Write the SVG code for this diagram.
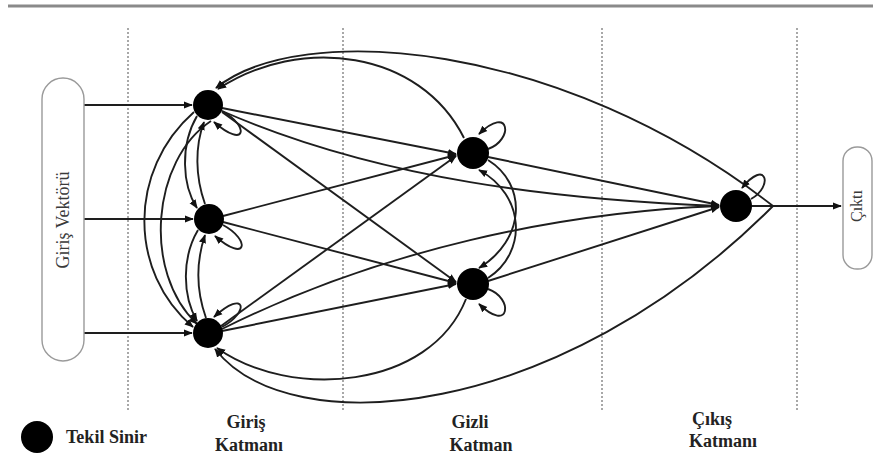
<svg xmlns="http://www.w3.org/2000/svg" width="873" height="456" viewBox="0 0 873 456">
<style>
.c{fill:none;stroke:#1e1e1e;stroke-width:1.9}
.v{stroke:#8c8c8c;stroke-width:1.5;stroke-dasharray:2 2}
.n{fill:#000}
.box{fill:#fff;stroke:#9a9a9a;stroke-width:1.4}
.bt{font-family:'Liberation Serif','DejaVu Serif',serif;font-size:18px;fill:#3a3a3a}
.lb{font-family:'Liberation Serif','DejaVu Serif',serif;font-size:18px;font-weight:bold;fill:#222}
</style>
<defs>
<marker id="a" viewBox="0 0 10 10" refX="9" refY="5" markerWidth="9" markerHeight="9" orient="auto" markerUnits="userSpaceOnUse"><path d="M0,1 L10,5 L0,9 z" fill="#111"/></marker>
</defs>
<rect width="873" height="456" fill="#fff"/>
<g id="frame">
<line x1="8" y1="6" x2="873" y2="6" stroke="#8a8a8a" stroke-width="3"/>
<line class="v" x1="128" y1="28" x2="128" y2="410"/>
<line class="v" x1="343" y1="28" x2="343" y2="410"/>
<line class="v" x1="602" y1="28" x2="602" y2="410"/>
<line class="v" x1="797" y1="28" x2="797" y2="410"/>
</g>
<g id="connectors">
<path class="c" d="M84 105 L192 105" marker-end="url(#a)"/>
<path class="c" d="M84 219 L193 219" marker-end="url(#a)"/>
<path class="c" d="M84 333 L192 333" marker-end="url(#a)"/>
<path class="c" d="M222 108 L456 154" marker-end="url(#a)"/>
<path class="c" d="M222 112 L456 282" marker-end="url(#a)"/>
<path class="c" d="M223 216 L456 155" marker-end="url(#a)"/>
<path class="c" d="M223 222 L456 283" marker-end="url(#a)"/>
<path class="c" d="M221 326 L456 156" marker-end="url(#a)"/>
<path class="c" d="M222 331 L456 284" marker-end="url(#a)"/>
<path class="c" d="M222 111 C380 180 560 200 719 206" marker-end="url(#a)"/>
<path class="c" d="M222 329 C380 250 560 212 719 206" marker-end="url(#a)"/>
<path class="c" d="M488 157 L719 205" marker-end="url(#a)"/>
<path class="c" d="M488 281 L719 207" marker-end="url(#a)"/>
<path class="c" d="M752 206 L841 206" marker-end="url(#a)"/>
<path class="c" d="M773 206 C560 40 300 20 216 88" marker-end="url(#a)"/>
<path class="c" d="M773 206 L752 206"/>
<path class="c" d="M464 138 C420 50 300 35 218 89" marker-end="url(#a)"/>
<path class="c" d="M773 206 C560 420 290 445 215 349" marker-end="url(#a)"/>
<path class="c" d="M466 299 C430 390 290 400 217 348" marker-end="url(#a)"/>
<path class="c" d="M488 160 C528 185 525 240 479 268" marker-end="url(#a)"/>
<path class="c" d="M488 278 C528 252 525 195 479 170" marker-end="url(#a)"/>
<path class="c" d="M194 112 C128 170 128 272 193 327" marker-end="url(#a)"/>
<path class="c" d="M211 121 C152 160 142 272 197 324" marker-end="url(#a)"/>
<path class="c" d="M197 116 C180 145 182 185 197 208" marker-end="url(#a)"/>
<path class="c" d="M205 204 C195 176 195 146 204 122" marker-end="url(#a)"/>
<path class="c" d="M198 230 C182 257 182 295 197 321" marker-end="url(#a)"/>
<path class="c" d="M206 318 C196 290 196 262 205 235" marker-end="url(#a)"/>
<path class="c" d="M222 111 C250 126 246 150 214 122" marker-end="url(#a)"/>
<path class="c" d="M223 225 C251 240 247 264 215 236" marker-end="url(#a)"/>
<path class="c" d="M222 327 C250 312 246 288 214 317" marker-end="url(#a)"/>
<path class="c" d="M488 149 C514 140 510 104 479 134" marker-end="url(#a)"/>
<path class="c" d="M488 289 C514 298 510 334 479 304" marker-end="url(#a)"/>
<path class="c" d="M751 199 C774 186 766 158 742 188" marker-end="url(#a)"/>
</g>
<g id="input-vector">
<rect class="box" x="42" y="78" width="42" height="283" rx="21"/>
<text class="bt" transform="translate(69 220) rotate(-90)" text-anchor="middle">Giriş Vektörü</text>
</g>
<g id="output-box">
<rect class="box" x="843" y="147" width="29" height="122" rx="14"/>
<text class="bt" transform="translate(862 206) rotate(-90)" text-anchor="middle" font-size="16" style="font-size:16px">Çıktı</text>
</g>
<g id="I1"><circle class="n" cx="208" cy="105" r="15"/></g>
<g id="I2"><circle class="n" cx="209" cy="219" r="15"/></g>
<g id="I3"><circle class="n" cx="208" cy="333" r="15"/></g>
<g id="H1"><circle class="n" cx="473" cy="153" r="16"/></g>
<g id="H2"><circle class="n" cx="473" cy="284" r="16"/></g>
<g id="O"><circle class="n" cx="736" cy="206" r="16"/></g>
<g id="legend">
<circle class="n" cx="37" cy="437" r="16"/>
<text class="lb" x="66" y="443" textLength="81" lengthAdjust="spacingAndGlyphs">Tekil Sinir</text>
</g>
<g id="labels">
<text class="lb" x="246" y="428" text-anchor="middle">Giriş</text>
<text class="lb" x="249" y="451" text-anchor="middle">Katmanı</text>
<text class="lb" x="470" y="428" text-anchor="middle">Gizli</text>
<text class="lb" x="481" y="451" text-anchor="middle">Katman</text>
<text class="lb" x="712" y="425" text-anchor="middle">Çıkış</text>
<text class="lb" x="723" y="447" text-anchor="middle">Katmanı</text>
</g>
</svg>
